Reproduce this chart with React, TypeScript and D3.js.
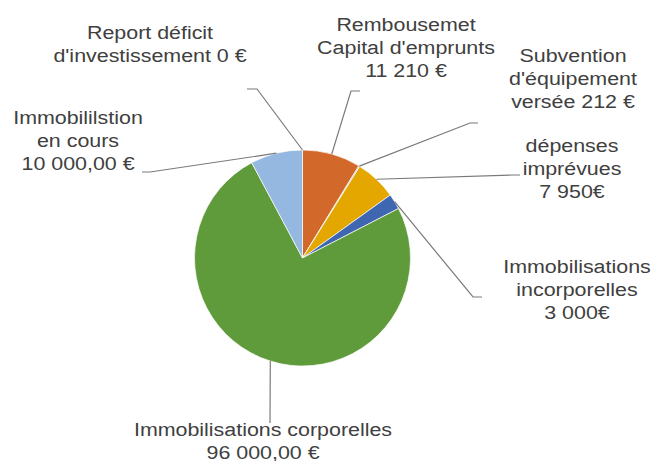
import React from 'react';
import * as d3 from 'd3';

// slices, clockwise from 12 o'clock
const categories = [
  'Report déficit',
  'Rembousemet',
  'Subvention',
  'dépenses imprévues',
  'Immobilisations incorporelles',
  'Immobilisations corporelles',
  'Immobilililstion en cours',
];
const values = [0, 11210, 212, 7950, 3000, 96000, 10000];
const labelLines = [
  ['Report déficit', "d'investissement 0 €"],
  ['Rembousemet', "Capital d'emprunts", '11 210 €'],
  ['Subvention', "d'équipement", 'versée 212 €'],
  ['dépenses', 'imprévues', '7 950€'],
  ['Immobilisations', 'incorporelles', '3 000€'],
  ['Immobilisations corporelles', '96 000,00 €'],
  ['Immobililstion', 'en cours', '10 000,00 €'],
];
const colors = ['#a5a5a5', '#d2692a', '#a5a5a5', '#e3a700', '#3f66b0', '#5f9a3b', '#94b8e0'];

// label placement (text centre x, first baseline y) and leader elbow/end points
const labelPos = [
  { x: 150, y: 39, elbow: [257, 89], end: [247, 89] },
  { x: 406, y: 31, elbow: [351, 91], end: [360, 91] },
  { x: 573, y: 62, elbow: [470, 123], end: [478, 123] },
  { x: 572, y: 152, elbow: [512, 175], end: [520, 175] },
  { x: 577, y: 273, elbow: [473, 297], end: [482, 297] },
  { x: 263, y: 436, elbow: [270, 423], end: [270, 423] },
  { x: 78, y: 124, elbow: [150, 172], end: [142, 172] },
];

const width = 659;
const height = 461;
const cx = 302.5;
const cy = 258;
const radius = 108;
const lineHeight = 23;

export default function App() {
  const pie = d3.pie<number>().sort(null).value(d => d);
  const arcs = pie(values);
  const arc = d3.arc<d3.PieArcDatum<number>>().innerRadius(0).outerRadius(radius);

  return (
    <svg width={width} height={height} style={{ position: 'absolute', left: 0, top: 0, background: '#fff' }}
      fontFamily="'Liberation Sans', Arial, sans-serif">
      <g transform={`translate(${cx},${cy})`}>
        {arcs.map((a, i) => (
          <path key={categories[i]} d={arc(a) || ''} fill={colors[i]} stroke="#fff" strokeWidth={0.7} />
        ))}
      </g>
      {arcs.map((a, i) => {
        const mid = (a.startAngle + a.endAngle) / 2;
        const sx = cx + radius * Math.sin(mid);
        const sy = cy - radius * Math.cos(mid);
        const p = labelPos[i];
        return (
          <polyline key={'l' + i} fill="none" stroke="#7a7a7a" strokeWidth={1.2}
            points={`${sx},${sy} ${p.elbow[0]},${p.elbow[1]} ${p.end[0]},${p.end[1]}`} />
        );
      })}
      {labelLines.map((lines, i) => {
        const p = labelPos[i];
        return (
          <g key={'t' + i} transform={`translate(${p.x},${p.y}) scale(1.19,1)`}>
            <text textAnchor="middle" fontSize={18} fill="#404040">
              {lines.map((s, j) => (
                <tspan key={j} x={0} y={j * lineHeight}>{s}</tspan>
              ))}
            </text>
          </g>
        );
      })}
    </svg>
  );
}
